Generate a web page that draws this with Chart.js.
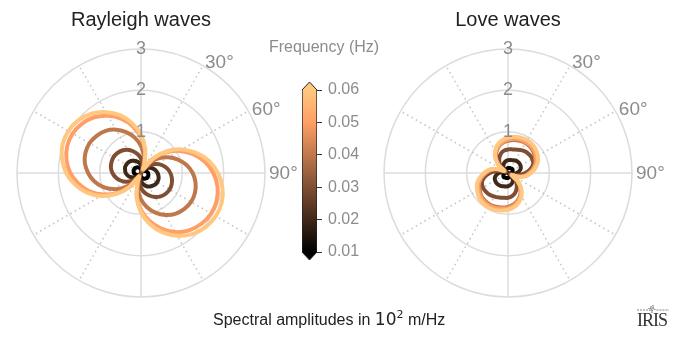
<!DOCTYPE html>
<html>
<head>
<meta charset="utf-8">
<script src="https://cdn.jsdelivr.net/npm/chart.js"></script>
<style>
  body { margin: 0; background: #fff; width: 673px; height: 337px; overflow: hidden; position: relative;
         font-family: "Liberation Sans", Arial, Helvetica, sans-serif; }
  canvas { position: absolute; }
  .txt { position: absolute; white-space: nowrap; line-height: 16px; }
</style>
</head>
<body>
<canvas id="rayleigh" width="310" height="320" style="left:0;top:0"></canvas>
<canvas id="love" width="310" height="320" style="left:367px;top:0"></canvas>
<canvas id="colorbar" width="84" height="200" style="left:296px;top:70px"></canvas>
<div class="txt" style="left:264px;top:39px;width:120px;text-align:center;font-size:16px;color:#8c8c8c">Frequency (Hz)</div>
<div class="txt" style="left:213px;top:311px;font-size:16px;color:#222">Spectral amplitudes in <span style="font-family:'DejaVu Sans';font-size:17px">10<sup style="font-size:11px;vertical-align:7px;line-height:0">2</sup></span> m/Hz</div>
<svg style="position:absolute;left:637px;top:304px" width="32" height="10">
  <polyline points="0,6 11,6 12,4 13,7 14,2 15,9 16,1 17,6 18,5 19,6 32,6" fill="none" stroke="#666" stroke-width="0.8" stroke-dasharray="2,1"/>
</svg>
<div class="txt" style="left:637px;top:311px;font-family:'Liberation Serif',serif;font-size:18px;line-height:18px;color:#333;letter-spacing:-1px">IRIS</div>
<script>
// azimuths (degrees, clockwise from north)
const angles = [0,10,20,30,40,50,60,70,80,90,100,110,120,130,140,150,160,170,
                180,190,200,210,220,230,240,250,260,270,280,290,300,310,320,330,340,350];
const freqs = [0.01, 0.02, 0.03, 0.04, 0.05, 0.06];
const rTicks = [1, 2, 3];
const thetaTicks = [30, 60, 90];
const thetaTickLabels = ['30°', '60°', '90°'];

// Rayleigh waves, spectral amplitude per azimuth
const ray001 = [0.09,0.06,0.02,0.01,0.04,0.07,0.10,0.13,0.15,0.17,0.18,0.19,0.19,0.19,0.17,0.16,0.14,0.11,0.09,0.06,0.02,0.01,0.04,0.07,0.10,0.13,0.15,0.17,0.18,0.19,0.19,0.19,0.17,0.16,0.14,0.11];
const ray002 = [0.19,0.12,0.05,0.02,0.10,0.18,0.25,0.31,0.36,0.40,0.43,0.45,0.45,0.44,0.41,0.38,0.33,0.27,0.20,0.13,0.05,0.02,0.09,0.16,0.22,0.28,0.33,0.37,0.39,0.41,0.41,0.40,0.38,0.34,0.30,0.25];
const ray003 = [0.35,0.22,0.09,0.04,0.18,0.31,0.44,0.55,0.64,0.71,0.76,0.79,0.80,0.78,0.74,0.67,0.58,0.48,0.36,0.23,0.10,0.04,0.17,0.30,0.42,0.53,0.62,0.69,0.74,0.76,0.77,0.75,0.71,0.65,0.56,0.46];
const ray004 = [0.65,0.42,0.18,0.07,0.32,0.55,0.76,0.95,1.12,1.25,1.34,1.39,1.40,1.36,1.29,1.17,1.02,0.84,0.64,0.41,0.17,0.07,0.32,0.56,0.78,0.98,1.15,1.28,1.38,1.43,1.44,1.40,1.33,1.21,1.05,0.87];
const ray005 = [0.86,0.55,0.23,0.10,0.44,0.77,1.07,1.34,1.57,1.75,1.88,1.95,1.96,1.91,1.81,1.65,1.43,1.18,0.89,0.57,0.23,0.10,0.43,0.75,1.04,1.31,1.53,1.71,1.83,1.90,1.91,1.86,1.76,1.60,1.40,1.15];
const ray006 = [0.92,0.59,0.25,0.11,0.47,0.82,1.14,1.42,1.67,1.86,2.00,2.08,2.09,2.04,1.93,1.75,1.53,1.26,0.95,0.61,0.26,0.10,0.46,0.79,1.11,1.39,1.62,1.81,1.94,2.02,2.03,1.98,1.87,1.70,1.49,1.22];

// Love waves
const love001 = [0.12,0.12,0.13,0.13,0.14,0.14,0.13,0.12,0.10,0.08,0.05,0.03,0.01,0.04,0.07,0.09,0.10,0.11,0.12,0.12,0.13,0.13,0.14,0.14,0.13,0.12,0.10,0.08,0.05,0.03,0.01,0.04,0.07,0.09,0.10,0.11];
const love002 = [0.31,0.32,0.33,0.35,0.36,0.36,0.35,0.33,0.28,0.21,0.14,0.08,0.03,0.10,0.17,0.23,0.27,0.30,0.32,0.33,0.34,0.36,0.37,0.37,0.36,0.34,0.29,0.22,0.15,0.08,0.03,0.10,0.17,0.22,0.26,0.29];
const love003 = [0.57,0.58,0.60,0.64,0.67,0.68,0.68,0.65,0.55,0.42,0.28,0.15,0.06,0.20,0.32,0.42,0.51,0.57,0.60,0.61,0.63,0.66,0.69,0.70,0.70,0.67,0.58,0.44,0.29,0.15,0.06,0.20,0.32,0.42,0.50,0.55];
const love004 = [0.78,0.81,0.83,0.84,0.83,0.80,0.75,0.70,0.61,0.51,0.40,0.25,0.09,0.28,0.46,0.60,0.70,0.77,0.82,0.85,0.87,0.88,0.87,0.85,0.79,0.74,0.64,0.53,0.42,0.26,0.09,0.28,0.44,0.57,0.67,0.74];
const love005 = [0.81,0.84,0.86,0.86,0.86,0.83,0.78,0.72,0.63,0.52,0.42,0.26,0.10,0.29,0.48,0.62,0.72,0.80,0.85,0.87,0.90,0.91,0.90,0.87,0.82,0.76,0.67,0.55,0.44,0.27,0.10,0.29,0.46,0.59,0.69,0.76];
const love006 = [0.86,0.89,0.91,0.92,0.91,0.88,0.83,0.77,0.67,0.56,0.44,0.27,0.10,0.30,0.50,0.65,0.76,0.84,0.89,0.92,0.95,0.96,0.95,0.92,0.86,0.80,0.70,0.58,0.46,0.28,0.10,0.30,0.48,0.62,0.73,0.81];

// copper colormap at each frequency
const copper = ['#000000', '#402819', '#804f33', '#bf784c', '#ff9f65', '#ffc77f'];

Chart.defaults.font.family = '"Liberation Sans", Arial, Helvetica, sans-serif';

const angleLabels = {
  id: 'angleLabels',
  afterDraw(chart) {
    const r = chart.scales.r;
    const c = chart.ctx;
    c.save();
    c.font = '19px "Liberation Sans", Arial, sans-serif';
    c.fillStyle = '#8c8c8c';
    c.textAlign = 'left';
    c.textBaseline = 'middle';
    thetaTicks.forEach((deg, i) => {
      const p = r.getPointPosition(angles.indexOf(deg), r.drawingArea + 4);
      c.fillText(thetaTickLabels[i], p.x, p.y + 1);
    });
    c.restore();
  }
};

function polarChart(id, title, series) {
  const datasets = series.map((values, i) => ({
    label: freqs[i] + ' Hz',
    data: values,
    borderColor: copper[i],
    backgroundColor: 'transparent',
    borderWidth: 4,
    pointRadius: 0,
    fill: false,
    tension: 0.3
  })).reverse();

  return new Chart(document.getElementById(id), {
    type: 'radar',
    data: { labels: angles.map(String), datasets: datasets },
    options: {
      responsive: false,
      animation: false,
      events: [],
      layout: { padding: { top: 8, left: 8, right: 36, bottom: 14 } },
      plugins: {
        legend: { display: false },
        tooltip: { enabled: false },
        title: {
          display: true, text: title, color: '#222',
          font: { size: 20, weight: 'normal' },
          padding: { top: 0, bottom: 8 }
        }
      },
      scales: {
        r: {
          min: 0,
          max: rTicks[rTicks.length - 1],
          ticks: {
            stepSize: 1, color: '#8c8c8c', font: { size: 18 },
            showLabelBackdrop: false, backdropPadding: 0, z: 1
          },
          grid: { circular: true, color: '#dcdcdc', lineWidth: 1.5 },
          angleLines: {
            color: (ctx) => ctx.index % 9 === 0 ? '#dcdcdc' : '#c4c4c4',
            lineWidth: (ctx) => ctx.index % 3 === 0 ? 1.5 : 0,
            borderDash: (ctx) => ctx.index % 9 === 0 ? [] : [1.5, 3.5]
          },
          pointLabels: { display: false }
        }
      }
    },
    plugins: [angleLabels]
  });
}

polarChart('rayleigh', 'Rayleigh waves', [ray001, ray002, ray003, ray004, ray005, ray006]);
polarChart('love', 'Love waves', [love001, love002, love003, love004, love005, love006]);

// colorbar with triangular extensions
const extendEnds = {
  id: 'extendEnds',
  afterDatasetsDraw(chart) {
    const bar = chart.getDatasetMeta(0).data[0];
    const y = chart.scales.y;
    const c = chart.ctx;
    const left = bar.x - bar.width / 2;
    const right = bar.x + bar.width / 2;
    const top = y.getPixelForValue(freqs[freqs.length - 1]);
    const bottom = y.getPixelForValue(freqs[0]);
    c.save();
    c.strokeStyle = '#222';
    c.lineWidth = 1;
    c.fillStyle = copper[copper.length - 1];
    c.beginPath(); c.moveTo(left, top); c.lineTo(bar.x, top - 8); c.lineTo(right, top); c.closePath(); c.fill();
    c.beginPath(); c.moveTo(left, top); c.lineTo(bar.x, top - 8); c.lineTo(right, top); c.stroke();
    c.fillStyle = copper[0];
    c.beginPath(); c.moveTo(left, bottom); c.lineTo(bar.x, bottom + 8); c.lineTo(right, bottom); c.closePath(); c.fill();
    c.beginPath(); c.moveTo(left, bottom); c.lineTo(bar.x, bottom + 8); c.lineTo(right, bottom); c.stroke();
    c.restore();
  }
};

new Chart(document.getElementById('colorbar'), {
  type: 'bar',
  data: {
    labels: [''],
    datasets: [{
      data: [[freqs[0], freqs[freqs.length - 1]]],
      backgroundColor: (ctx) => {
        const chart = ctx.chart;
        if (!chart.chartArea) return copper[0];
        const y = chart.scales.y;
        const g = chart.ctx.createLinearGradient(0, y.getPixelForValue(freqs[0]), 0, y.getPixelForValue(freqs[freqs.length - 1]));
        copper.forEach((col, i) => g.addColorStop(i / (copper.length - 1), col));
        return g;
      },
      borderColor: '#222',
      borderWidth: { left: 1, right: 1, top: 0, bottom: 0 },
      borderSkipped: false,
      barPercentage: 1,
      categoryPercentage: 1
    }]
  },
  options: {
    responsive: false,
    animation: false,
    events: [],
    layout: { padding: { left: 6, top: 20, right: 0, bottom: 18 } },
    plugins: { legend: { display: false }, tooltip: { enabled: false } },
    scales: {
      x: { display: false },
      y: {
        position: 'right',
        min: freqs[0],
        max: freqs[freqs.length - 1],
        ticks: { stepSize: 0.01, color: '#8c8c8c', font: { size: 16 }, padding: 6, callback: (v) => v.toFixed(2) },
        grid: { drawOnChartArea: false, tickLength: 5, color: '#333', lineWidth: 1 },
        border: { display: false },
        afterFit(scale) { scale.width = 63; }
      }
    }
  },
  plugins: [extendEnds]
});
</script>
</body>
</html>
